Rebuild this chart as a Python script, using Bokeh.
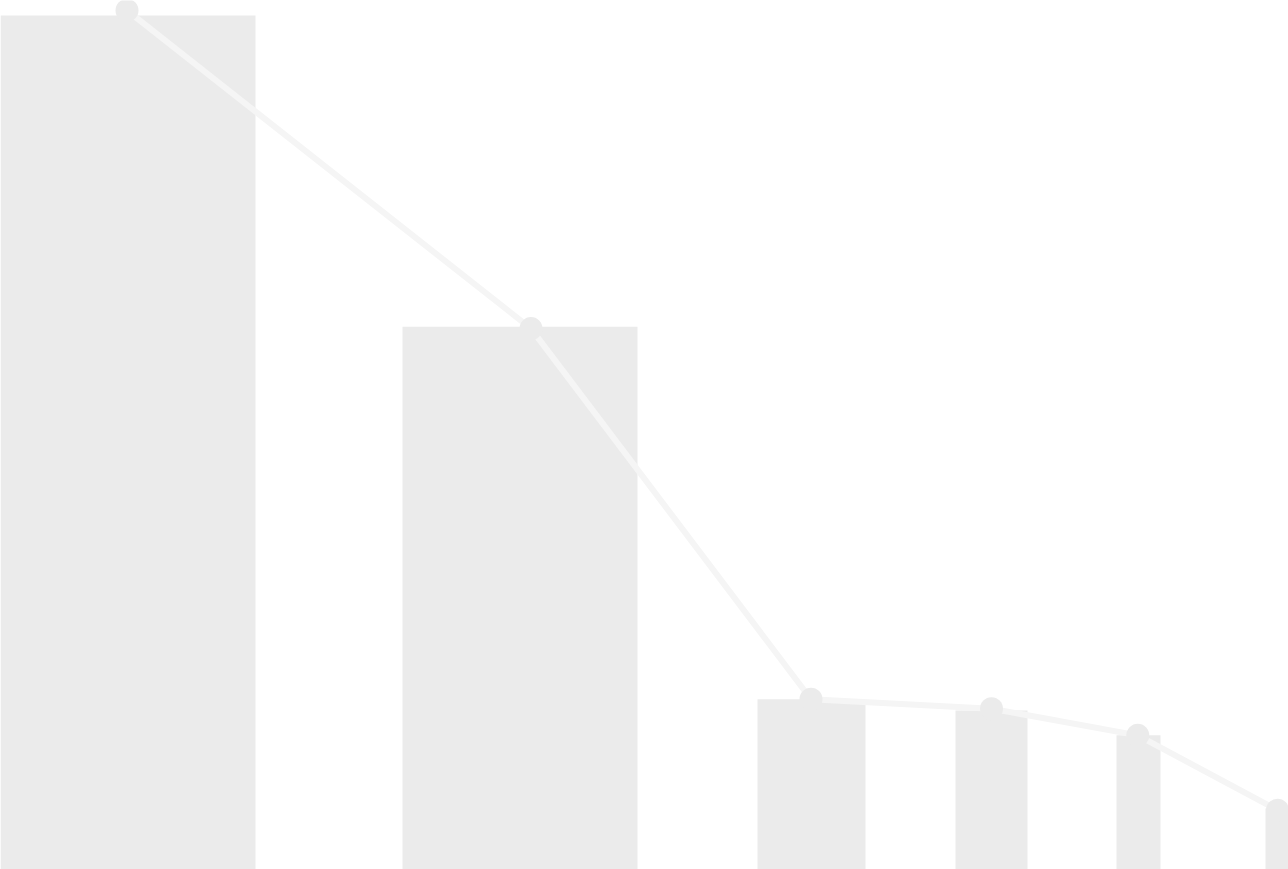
from bokeh.plotting import figure
from bokeh.models import Range1d, ColumnDataSource
from bokeh.embed import file_html
from bokeh.resources import INLINE

# Bar series (position, width, height)
bar_x = [12.65, 51.95, 81.1, 99.1, 113.8, 127.7]
bar_width = [25.7, 23.5, 10.8, 7.2, 4.4, 2.4]
bar_height = [99.3, 63.1, 19.8, 18.5, 15.6, 7.1]

# Line series (position, value)
line_x = [12.65, 53.05, 81.05, 99.1, 113.73, 127.7]
line_y = [99.9, 62.9, 19.8, 18.7, 15.6, 6.9]

bar_color = "#ebebeb"
line_color = "#f5f5f5"

p = figure(width=1288, height=869, output_backend="svg", toolbar_location=None,
           x_range=Range1d(0, 128.8), y_range=Range1d(0, 101.05),
           min_border=0, min_border_left=0, min_border_right=0,
           min_border_top=0, min_border_bottom=0)
p.xaxis.visible = False
p.yaxis.visible = False
p.grid.visible = False
p.outline_line_color = None
p.background_fill_color = "white"
p.border_fill_color = "white"

bars = ColumnDataSource(dict(x=bar_x, w=bar_width, top=bar_height))
p.vbar(x="x", width="w", top="top", bottom=0, source=bars,
       fill_color=bar_color, line_color=None)

pts = ColumnDataSource(dict(x=line_x, y=line_y))
p.line(x="x", y="y", source=pts, line_color=line_color, line_width=6)
p.scatter(x="x", y="y", source=pts, marker="circle", size=23,
          fill_color=bar_color, line_color=None)

open("out.html", "w").write(file_html(p, INLINE))
